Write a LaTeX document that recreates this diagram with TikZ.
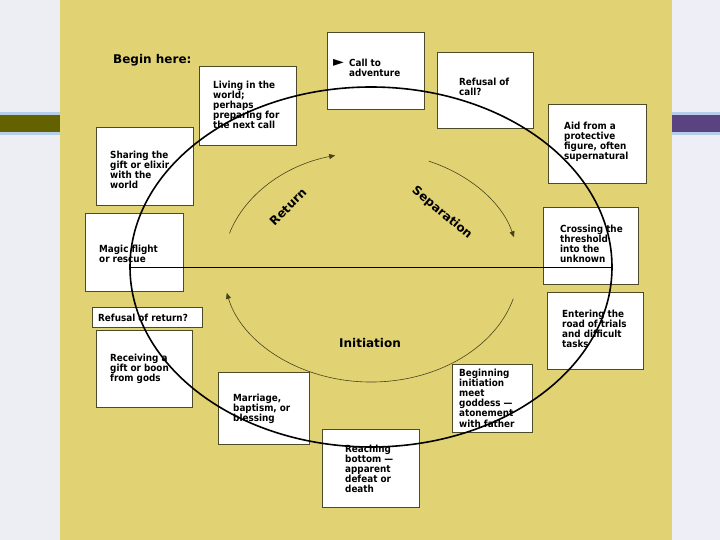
\documentclass[tikz,border=0pt]{standalone}
\usepackage{fontspec}
\setmainfont{DejaVu Sans}
\newfontfamily\condfont{DejaVu Sans Condensed}
\usetikzlibrary{arrows.meta,shapes.geometric}
\definecolor{panel}{RGB}{225,211,116}
\definecolor{leftc}{RGB}{237,238,243}
\definecolor{rightc}{RGB}{238,239,246}
\definecolor{oliveband}{RGB}{100,97,0}
\definecolor{purpleband}{RGB}{90,67,128}
\definecolor{lightblue}{RGB}{182,206,234}
\definecolor{boxc}{RGB}{77,74,42}
\definecolor{arcc}{RGB}{70,66,28}
\tikzset{
  box/.style 2 args={draw=boxc, line width=0.7pt, fill=white, inner sep=0pt,
    rectangle, minimum width=#1pt, minimum height=#2pt},
  txt/.style={anchor=north west, inner sep=0pt, align=left, text=black,
    font=\condfont\bfseries\fontsize{9.8}{10.2}\selectfont},
  bigtxt/.style={inner sep=0pt, text=black, font=\bfseries\fontsize{12}{13}\selectfont},
  inarc/.style={draw=arcc, line width=0.6pt, -{Triangle[length=6pt,width=5pt]}}
}
\begin{document}
\begin{tikzpicture}[x=1pt,y=-1pt]
\useasboundingbox (0,0) rectangle (720,540);
% backgrounds
\fill[leftc] (0,0) rectangle (60,540);
\fill[rightc] (672,0) rectangle (720,540);
\fill[panel] (60,0) rectangle (672,540);
\fill[lightblue] (0,112) rectangle (60,135);
\fill[oliveband] (0,115) rectangle (60,132);
\fill[lightblue] (672,112) rectangle (720,135);
\fill[purpleband] (672,115) rectangle (720,132);

% boxes
\node[box={97}{77}] (call) at (375.5,70.5) {};
\node[box={97}{79}] (living) at (247.5,105.5) {};
\node[box={96}{76}] (refcall) at (485,90) {};
\node[box={98}{79}] (aid) at (597,143.5) {};
\node[box={97}{78}] (sharing) at (144.5,166) {};
\node[box={98}{78}] (magic) at (134,252) {};
\node[box={110}{20}] (refret) at (147,317) {};
\node[box={96}{77}] (receiving) at (144,368.5) {};
\node[box={91}{72}] (marriage) at (263.5,408) {};
\node[box={97}{78}] (reaching) at (370.5,468) {};
\node[box={80}{68}] (beginning) at (492,398) {};
\node[box={95}{77}] (crossing) at (590.5,245.5) {};
\node[box={96}{77}] (entering) at (595,330.5) {};

% box texts
\node[inner sep=0pt, font=\fontsize{14}{15}\selectfont] (calltri) at (338.5,63) {►};
\node[txt] (tcall) at (349,58.5) {Call to\\adventure};
\node[txt] (tliving) at (213,80.5) {Living in the\\world;\\perhaps\\preparing for\\the next call};
\node[txt] (trefcall) at (459,77.5) {Refusal of\\call?};
\node[txt] (taid) at (564,121.5) {Aid from a\\protective\\figure, often\\supernatural};
\node[txt] (tsharing) at (110,150.5) {Sharing the\\gift or elixir\\with the\\world};
\node[txt] (tmagic) at (99,244.5) {Magic flight\\or rescue};
\node[txt] (trefret) at (98,313.5) {Refusal of return?};
\node[txt] (treceiving) at (110,353.5) {Receiving a\\gift or boon\\from gods};
\node[txt] (tmarriage) at (233,393.5) {Marriage,\\baptism, or\\blessing};
\node[txt] (treaching) at (345,444.5) {Reaching\\bottom —\\apparent\\defeat or\\death};
\node[txt] (tbeginning) at (459,368.5) {Beginning\\initiation\\meet\\goddess —\\atonement\\with father};
\node[txt] (tcrossing) at (560,224.5) {Crossing the\\threshold\\into the\\unknown};
\node[txt] (tentering) at (562,309.5) {Entering the\\road of trials\\and difficult\\tasks};

% title
\node[bigtxt, anchor=west] (begin) at (113,60) {Begin here:};

% outer cycle
\node[draw=black, line width=1.6pt, ellipse, inner sep=0pt,
      minimum width=482pt, minimum height=360pt] (E) at (371,267) {};
\draw[draw=black, line width=0.8pt] (E.west) -- (E.east);

% inner arcs
\coordinate (C) at (371,267);
\draw[inarc] ([shift={(C)}]-163:148 and 115) arc[start angle=-163, end angle=-104, x radius=148, y radius=115];
\draw[inarc] ([shift={(C)}]-67:148 and 115) arc[start angle=-67, end angle=-15, x radius=148, y radius=115];
\draw[inarc] ([shift={(C)}]16:148 and 115) arc[start angle=16, end angle=167, x radius=148, y radius=115];

% arc labels
\node[bigtxt, rotate=45] (lreturn) at (288,207) {Return};
\node[bigtxt, rotate=-40] (lsep) at (442,213) {Separation};
\node[bigtxt, font=\bfseries\fontsize{12}{14}\selectfont] (linit) at (370,343) {Initiation};
\end{tikzpicture}
\end{document}
